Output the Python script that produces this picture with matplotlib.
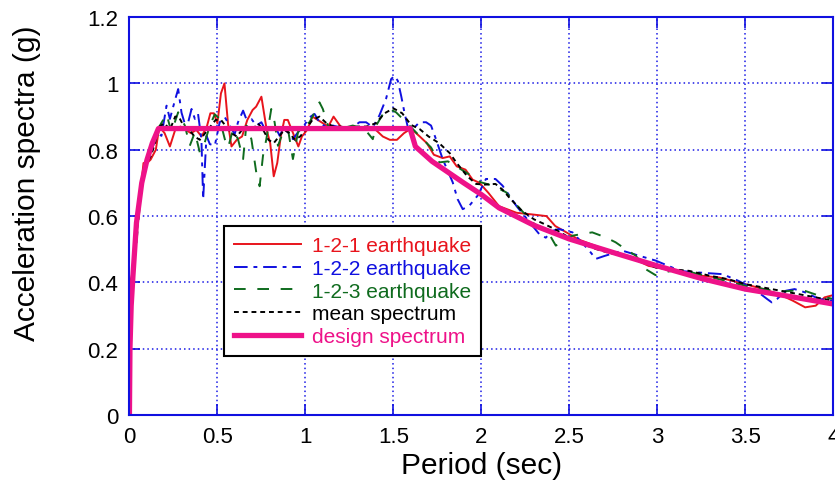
import numpy as np
from matplotlib import pyplot as plt
from matplotlib import font_manager
from matplotlib.ticker import FormatStrFormatter

# ---- data ----
# 1-2-1 earthquake
T_red = [0, 0.02, 0.04, 0.06, 0.08, 0.10, 0.12, 0.15, 0.17, 0.2, 0.23, 0.26, 0.29, 0.32, 0.35,
         0.38, 0.41, 0.44, 0.46, 0.48, 0.5, 0.52, 0.54, 0.56, 0.58, 0.61, 0.64, 0.67, 0.7, 0.72,
         0.75, 0.78, 0.8, 0.82, 0.84, 0.86, 0.88, 0.9, 0.93, 0.96, 0.98, 1.01, 1.04, 1.07, 1.1,
         1.13, 1.16, 1.2, 1.25, 1.3, 1.35, 1.4, 1.44, 1.48, 1.52, 1.56, 1.6, 1.65, 1.69, 1.73,
         1.78, 1.82, 1.86, 1.91, 1.95, 1.99, 2.04, 2.1, 2.15, 2.2, 2.29, 2.37, 2.42, 2.47, 2.55,
         2.65, 2.75, 2.85, 2.95, 3.05, 3.15, 3.25, 3.35, 3.5, 3.6, 3.69, 3.77, 3.84, 3.9, 3.95, 4.0]
A_red = [0.38, 0.44, 0.56, 0.66, 0.76, 0.76, 0.77, 0.80, 0.87, 0.85, 0.81, 0.86, 0.87, 0.86, 0.85,
         0.86, 0.84, 0.87, 0.91, 0.91, 0.88, 0.97, 1.00, 0.88, 0.81, 0.83, 0.84, 0.89, 0.92, 0.93,
         0.96, 0.86, 0.82, 0.72, 0.76, 0.84, 0.89, 0.89, 0.85, 0.81, 0.84, 0.86, 0.90, 0.89, 0.88,
         0.87, 0.90, 0.87, 0.86, 0.86, 0.87, 0.86, 0.84, 0.83, 0.83, 0.85, 0.864, 0.84, 0.82, 0.785,
         0.775, 0.78, 0.75, 0.74, 0.71, 0.70, 0.67, 0.63, 0.62, 0.61, 0.605, 0.60, 0.57, 0.555, 0.53,
         0.51, 0.49, 0.475, 0.45, 0.44, 0.43, 0.42, 0.415, 0.395, 0.38, 0.365, 0.345, 0.325, 0.33, 0.355, 0.362]

# 1-2-2 earthquake
T_blue = [0, 0.02, 0.04, 0.06, 0.08, 0.10, 0.12, 0.14, 0.16, 0.182, 0.211, 0.23, 0.258, 0.277,
          0.296, 0.324, 0.353, 0.372, 0.39, 0.409, 0.419, 0.428, 0.438, 0.457, 0.485, 0.513, 0.542,
          0.57, 0.598, 0.617, 0.646, 0.664, 0.693, 0.721, 0.75, 0.778, 0.797, 0.825, 0.854, 0.873,
          0.901, 0.929, 0.958, 0.986, 1.024, 1.052, 1.08, 1.118, 1.156, 1.194, 1.232, 1.269, 1.307,
          1.345, 1.383, 1.42, 1.458, 1.487, 1.506, 1.525, 1.544, 1.563, 1.582, 1.61, 1.648, 1.686,
          1.714, 1.742, 1.78, 1.837, 1.865, 1.894, 1.931, 1.979, 2.026, 2.08, 2.12, 2.2, 2.29,
          2.33, 2.366, 2.40, 2.44, 2.518, 2.613, 2.65, 2.70, 2.763, 2.8, 2.9, 2.99, 3.085, 3.12,
          3.235, 3.37, 3.46, 3.55, 3.624, 3.65, 3.68, 3.73, 3.78, 3.84, 3.92, 4.0]
A_blue = [0.37, 0.43, 0.55, 0.65, 0.72, 0.76, 0.79, 0.82, 0.85, 0.842, 0.933, 0.893, 0.948, 0.983,
          0.912, 0.862, 0.923, 0.893, 0.908, 0.832, 0.651, 0.742, 0.842, 0.817, 0.812, 0.883, 0.898,
          0.873, 0.847, 0.883, 0.918, 0.893, 0.893, 0.873, 0.883, 0.853, 0.862, 0.873, 0.842, 0.862,
          0.853, 0.832, 0.853, 0.868, 0.898, 0.908, 0.883, 0.868, 0.873, 0.868, 0.857, 0.868, 0.883,
          0.883, 0.868, 0.903, 0.953, 1.013, 1.023, 1.008, 0.963, 0.912, 0.868, 0.862, 0.883, 0.883,
          0.873, 0.832, 0.772, 0.702, 0.651, 0.621, 0.631, 0.662, 0.712, 0.712, 0.692, 0.63, 0.571,
          0.545, 0.535, 0.555, 0.561, 0.551, 0.496, 0.471, 0.48, 0.49, 0.496, 0.48, 0.466, 0.445, 0.435,
          0.43, 0.425, 0.405, 0.38, 0.35, 0.34, 0.35, 0.375, 0.38, 0.37, 0.35, 0.345]

# 1-2-3 earthquake
T_green = [0, 0.02, 0.04, 0.06, 0.08, 0.10, 0.12, 0.14, 0.16, 0.173, 0.211, 0.239, 0.277, 0.315,
           0.343, 0.372, 0.4, 0.428, 0.457, 0.485, 0.513, 0.542, 0.561, 0.589, 0.617, 0.646, 0.664,
           0.693, 0.721, 0.74, 0.759, 0.778, 0.806, 0.825, 0.844, 0.873, 0.901, 0.929, 0.958, 0.986,
           1.024, 1.052, 1.08, 1.099, 1.128, 1.156, 1.194, 1.232, 1.269, 1.307, 1.345, 1.383, 1.402,
           1.44, 1.478, 1.515, 1.553, 1.591, 1.648, 1.714, 1.761, 1.81, 1.912, 1.997, 2.064, 2.14,
           2.196, 2.29, 2.385, 2.423, 2.46, 2.518, 2.57, 2.63, 2.706, 2.763, 2.82, 2.877, 2.934, 2.99,
           3.03, 3.085, 3.16, 3.31, 3.5, 3.61, 3.69, 3.765, 3.82, 3.92, 4.0]
A_green = [0.38, 0.42, 0.52, 0.64, 0.74, 0.77, 0.78, 0.83, 0.86, 0.873, 0.907, 0.853, 0.913, 0.873,
           0.812, 0.853, 0.792, 0.822, 0.873, 0.907, 0.893, 0.832, 0.807, 0.862, 0.832, 0.772, 0.873,
           0.832, 0.731, 0.69, 0.782, 0.832, 0.923, 0.883, 0.812, 0.853, 0.862, 0.772, 0.853, 0.873,
           0.883, 0.913, 0.943, 0.923, 0.873, 0.862, 0.873, 0.868, 0.873, 0.868, 0.857, 0.832, 0.873,
           0.907, 0.923, 0.913, 0.893, 0.873, 0.842, 0.807, 0.762, 0.765, 0.732, 0.702, 0.692, 0.672,
           0.636, 0.581, 0.546, 0.511, 0.525, 0.541, 0.546, 0.551, 0.536, 0.521, 0.5, 0.481, 0.44, 0.422,
           0.43, 0.435, 0.435, 0.415, 0.39, 0.38, 0.372, 0.375, 0.378, 0.36, 0.35]

# mean spectrum
T_mean = [0, 0.02, 0.04, 0.06, 0.08, 0.10, 0.12, 0.14, 0.17, 0.2, 0.23, 0.26, 0.28, 0.31, 0.34,
          0.37, 0.4, 0.43, 0.46, 0.49, 0.52, 0.55, 0.58, 0.61, 0.64, 0.67, 0.7, 0.73, 0.76, 0.79,
          0.82, 0.85, 0.88, 0.91, 0.94, 0.97, 1.0, 1.04, 1.08, 1.12, 1.16, 1.2, 1.25, 1.3, 1.35,
          1.4, 1.45, 1.5, 1.55, 1.6, 1.65, 1.7, 1.76, 1.82, 1.86, 1.92, 1.97, 2.02, 2.08, 2.12,
          2.16, 2.23, 2.3, 2.35, 2.42, 2.5, 2.58, 2.65, 2.72, 2.8, 2.9, 2.99, 3.08, 3.18, 3.3,
          3.4, 3.5, 3.6, 3.7, 3.8, 3.9, 4.0]
A_mean = [0.38, 0.43, 0.54, 0.65, 0.74, 0.76, 0.78, 0.81, 0.87, 0.88, 0.86, 0.90, 0.90, 0.87, 0.86,
          0.84, 0.83, 0.85, 0.87, 0.89, 0.89, 0.87, 0.85, 0.84, 0.86, 0.87, 0.86, 0.88, 0.86, 0.83,
          0.82, 0.84, 0.86, 0.85, 0.83, 0.84, 0.86, 0.89, 0.90, 0.88, 0.87, 0.87, 0.865, 0.87, 0.87,
          0.88, 0.91, 0.925, 0.91, 0.875, 0.862, 0.84, 0.82, 0.79, 0.76, 0.72, 0.697, 0.695, 0.697, 0.68,
          0.655, 0.616, 0.59, 0.578, 0.56, 0.535, 0.515, 0.501, 0.49, 0.481, 0.465, 0.445, 0.44, 0.435, 0.42,
          0.41, 0.395, 0.385, 0.375, 0.365, 0.355, 0.345]

# design spectrum
T_design = [0, 0.003, 0.01, 0.02, 0.04, 0.07, 0.1, 0.13, 0.165, 1.595, 1.625, 1.72, 1.9, 2.0,
            2.1, 2.3, 2.5, 2.75, 3.0, 3.25, 3.5, 3.75, 4.0]
A_design = [0, 0.2, 0.33, 0.42, 0.58, 0.70, 0.77, 0.82, 0.864, 0.864, 0.81, 0.765, 0.70, 0.665,
            0.625, 0.572, 0.531, 0.49, 0.45, 0.412, 0.38, 0.358, 0.335]

x_ticks = [0, 0.5, 1, 1.5, 2, 2.5, 3, 3.5, 4]
y_ticks = [0, 0.2, 0.4, 0.6, 0.8, 1, 1.2]

names = {f.name for f in font_manager.fontManager.ttflist}
narrow = 'Liberation Sans Narrow' if 'Liberation Sans Narrow' in names else 'Liberation Sans'

fig = plt.figure(figsize=(8.35, 4.89), dpi=100)
ax = fig.add_axes([0.155, 0.149, 0.843, 0.814])

ax.plot(T_red, A_red, color='#e8141c', lw=1.4, label='1-2-1 earthquake')
ax.plot(T_blue, A_blue, color='#1010e0', lw=1.4, linestyle=(0, (7, 3, 2, 3)), label='1-2-2 earthquake')
ax.plot(T_green, A_green, color='#0f6b1e', lw=1.4, linestyle=(0, (6, 6)), label='1-2-3 earthquake')
ax.plot(T_mean, A_mean, color='black', lw=1.4, linestyle=(0, (2.5, 2)), label='mean spectrum')
ax.plot(T_design, A_design, color='#ee1289', lw=3.8, label='design spectrum')

ax.set_xlim(0, 4)
ax.set_ylim(0, 1.2)
ax.set_xticks(x_ticks)
ax.set_yticks(y_ticks)
ax.xaxis.set_major_formatter(FormatStrFormatter('%g'))
ax.yaxis.set_major_formatter(FormatStrFormatter('%g'))
ax.grid(True, color='#1a1ae6', linestyle=(0, (1, 2)), lw=1.1)
ax.tick_params(direction='in', length=8, width=1.2, color='#1010e0',
               top=True, right=True, labelsize=16, pad=8)
for lab in ax.get_xticklabels() + ax.get_yticklabels():
    lab.set_fontfamily(narrow)
for sp in ax.spines.values():
    sp.set_color('#1010e0')
    sp.set_linewidth(1.5)

ax.set_xlabel('Period (sec)', fontsize=21.5, family=narrow, labelpad=3)
ax.set_ylabel('Acceleration spectra (g)', fontsize=21.5, family=narrow, labelpad=8)
ax.yaxis.set_label_coords(-0.125, 0.585)

leg = ax.legend(loc='lower left', bbox_to_anchor=(0.135, 0.148), borderaxespad=0,
                handlelength=3.2, labelspacing=0.18, borderpad=0.48, handletextpad=0.5,
                fancybox=False, framealpha=1, edgecolor='black', labelcolor='linecolor',
                prop={'family': 'Liberation Sans', 'size': 15})
leg.get_frame().set_linewidth(1.5)

fig.savefig('out.png', dpi=100)
